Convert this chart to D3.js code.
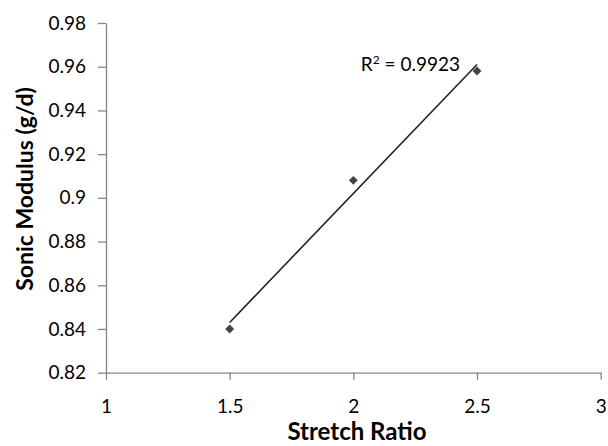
<!DOCTYPE html>
<html>
<head>
<meta charset="utf-8">
<script src="https://cdn.jsdelivr.net/npm/d3@7"></script>
<style>
  body { margin: 0; background: #fff; }
  svg { display: block; font-family: Lato, "Open Sans", sans-serif; }
  .axis path, .axis line { stroke: #868686; stroke-width: 1.3; }
  .axis text { font-family: Lato, "Open Sans", sans-serif; font-size: 19px; fill: #000; }
</style>
</head>
<body>
<svg width="608" height="446"></svg>
<script>
// values
var stretchRatio = [1.5, 2, 2.5];
var sonicModulus = [0.840, 0.908, 0.958];
var xTicks = [1, 1.5, 2, 2.5, 3];
var yTicks = [0.82, 0.84, 0.86, 0.88, 0.9, 0.92, 0.94, 0.96, 0.98];
var r2Label = "0.9923";

var svg = d3.select('svg');

var x = d3.scaleLinear().domain([1, 3]).range([106, 600.7]);
var y = d3.scaleLinear().domain([0.82, 0.98]).range([372.7, 23]);

// y axis
svg.append('g')
	.attr('class', 'axis')
	.attr('transform', 'translate(' + x(1) + ',0)')
	.call(d3.axisLeft(y).tickValues(yTicks).tickFormat(d3.format('')).tickSize(8).tickSizeOuter(0).tickPadding(12));

// x axis
svg.append('g')
	.attr('class', 'axis')
	.attr('transform', 'translate(0,' + y(0.82) + ')')
	.call(d3.axisBottom(x).tickValues(xTicks).tickFormat(d3.format('')).tickSize(7).tickSizeOuter(0).tickPadding(20));

// linear trendline (least squares on the points)
var n = stretchRatio.length;
var mx = d3.mean(stretchRatio), my = d3.mean(sonicModulus);
var sxy = 0, sxx = 0;
for (var i = 0; i < n; i++) {
	sxy += (stretchRatio[i] - mx) * (sonicModulus[i] - my);
	sxx += (stretchRatio[i] - mx) * (stretchRatio[i] - mx);
}
var slope = sxy / sxx, icpt = my - slope * mx;
var x0 = d3.min(stretchRatio), x1 = d3.max(stretchRatio);

svg.append('line')
	.attr('x1', x(x0)).attr('y1', y(icpt + slope * x0))
	.attr('x2', x(x1)).attr('y2', y(icpt + slope * x1))
	.attr('stroke', '#222')
	.attr('stroke-width', 1.6);

// points
var diamond = d3.symbol().type(d3.symbolSquare).size(40);
svg.selectAll('.pt')
	.data(stretchRatio)
	.enter()
	.append('path')
	.attr('class', 'pt')
	.attr('d', diamond)
	.attr('fill', '#444')
	.attr('transform', function(d, i){
		return 'translate(' + x(d) + ',' + y(sonicModulus[i]) + ') rotate(45)';
	});

// R squared label
var lab = svg.append('text')
	.attr('x', 460)
	.attr('y', 71)
	.attr('text-anchor', 'end')
	.style('font-size', '19px');
lab.append('tspan').text('R');
lab.append('tspan').attr('dy', -7).style('font-size', '12px').text('2');
lab.append('tspan').attr('dy', 7).text(' = ' + r2Label);

// axis titles
svg.append('text')
	.attr('transform', 'translate(33,189) rotate(-90)')
	.attr('text-anchor', 'middle')
	.style('font-size', '23px')
	.style('font-weight', 'bold')
	.text('Sonic Modulus (g/d)');

svg.append('text')
	.attr('x', 357)
	.attr('y', 440)
	.attr('text-anchor', 'middle')
	.style('font-size', '24px')
	.style('font-weight', 'bold')
	.text('Stretch Ratio');
</script>
</body>
</html>
